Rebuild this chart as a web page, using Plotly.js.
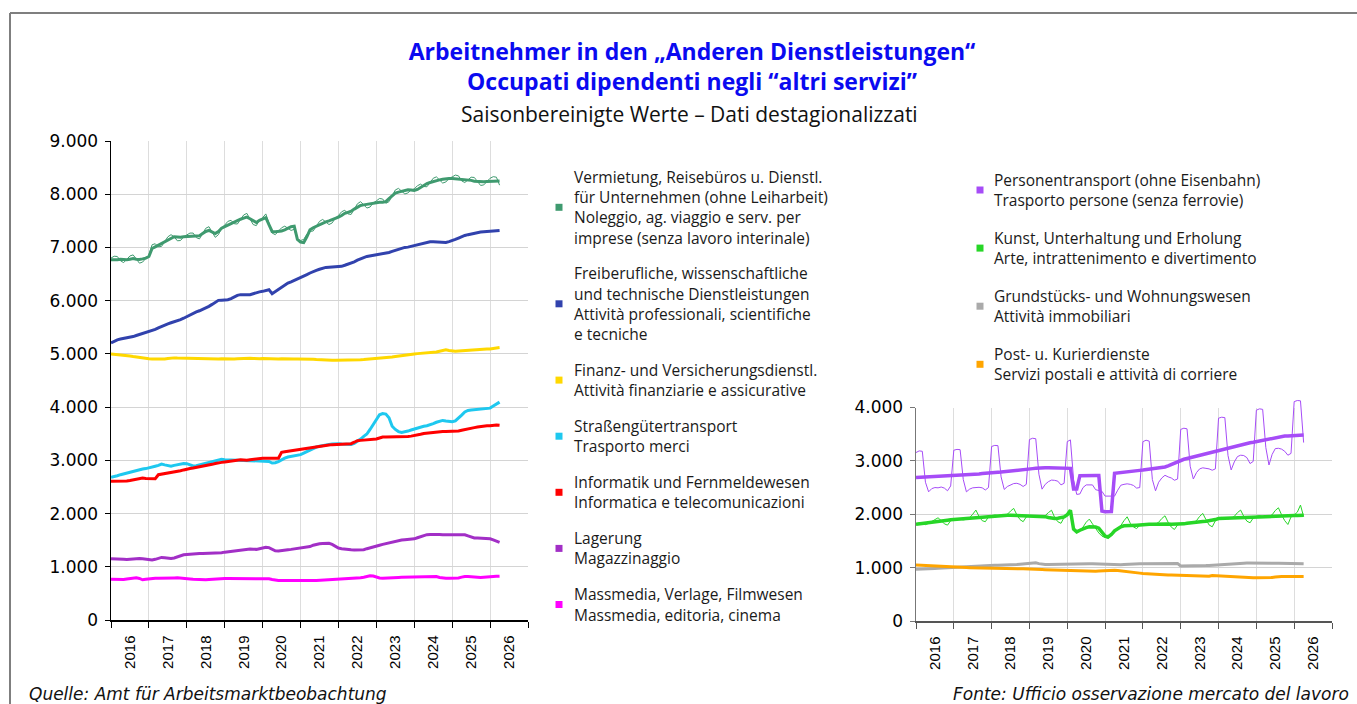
<!DOCTYPE html>
<html><head><meta charset="utf-8">
<script src="https://cdn.plot.ly/plotly-3.0.1.min.js"></script>
<style>html,body{margin:0;padding:0;background:#fff}#chart{width:1357px;height:704px}</style>
</head><body><div id="chart"></div>
<script>
// ---------- categories ----------
const startYear = 2016;
const monthCount = 124; // Jan 2016 .. Apr 2026
const yearLabels = ['2016','2017','2018','2019','2020','2021','2022','2023','2024','2025','2026'];

// ---------- left panel series (monthly) ----------
const vermietungTrend = [
 6770,6765,6770,6780,6775,6770,6780,6790,6780,6775,6785,6800,
 6830,6980,7010,7040,7080,7110,7140,7170,7200,7195,7190,7200,
 7205,7200,7210,7215,7220,7260,7300,7320,7290,7260,7300,7360,
 7390,7420,7450,7475,7500,7530,7550,7570,7540,7500,7470,7510,
 7530,7560,7430,7300,7295,7300,7310,7330,7360,7390,7400,7150,
 7100,7090,7200,7330,7370,7400,7430,7456,7480,7500,7520,7550,
 7570,7600,7640,7660,7680,7720,7760,7790,7800,7810,7820,7835,
 7845,7850,7850,7860,7920,7980,8020,8040,8060,8075,8085,8080,
 8070,8090,8130,8175,8200,8220,8240,8256,8270,8280,8290,8295,
 8295,8290,8285,8280,8280,8270,8260,8245,8238,8235,8235,8238,
 8240,8245,8250,8250];
const vermietungRaw = [
 6800,6835,6830,6750,6715,6770,6840,6860,6780,6705,6725,6800,
 6860,7050,7070,7010,7020,7110,7200,7240,7200,7125,7130,7200,
 7235,7270,7270,7185,7160,7260,7360,7390,7290,7190,7240,7360,
 7420,7490,7510,7445,7440,7530,7610,7640,7540,7430,7410,7510,
 7560,7630,7460,7270,7240,7300,7370,7400,7360,7320,7340,7150,
 7130,7150,7250,7300,7310,7400,7490,7526,7480,7430,7460,7550,
 7600,7670,7700,7630,7620,7720,7820,7860,7800,7740,7760,7835,
 7875,7920,7910,7830,7860,7980,8080,8110,8060,8005,8025,8080,
 8100,8160,8190,8145,8140,8220,8300,8326,8270,8210,8230,8295,
 8325,8360,8345,8250,8220,8270,8320,8315,8238,8165,8175,8238,
 8300,8330,8320,8170];
const freiberufliche = [
 5206,5240,5265,5281,5290,5300,5310,5325,5345,5363,5380,5400,
 5420,5440,5460,5490,5519,5545,5565,5585,5600,5620,5644,5670,
 5700,5730,5769,5790,5810,5835,5860,5894,5930,5970,6006,6010,
 6015,6019,6040,6070,6100,6113,6110,6105,6113,6130,6150,6165,
 6175,6190,6206,6130,6170,6210,6250,6300,6330,6355,6380,6405,
 6425,6455,6490,6520,6550,6570,6590,6610,6625,6630,6635,6640,
 6631,6645,6665,6685,6706,6730,6760,6790,6810,6831,6840,6850,
 6863,6870,6880,6895,6906,6925,6945,6965,6985,7000,7006,7020,
 7031,7045,7060,7080,7095,7106,7105,7100,7095,7094,7094,7110,
 7125,7150,7175,7206,7225,7240,7256,7270,7280,7290,7295,7300,
 7300,7305,7312,7319];
const finanz = [
 5000,4995,4988,4980,4975,4969,4960,4950,4940,4930,4920,4912,
 4908,4905,4902,4900,4900,4905,4915,4925,4925,4922,4920,4922,
 4925,4925,4925,4920,4918,4915,4910,4906,4906,4906,4906,4910,
 4906,4906,4906,4906,4910,4915,4920,4925,4920,4912,4906,4910,
 4915,4912,4906,4906,4900,4906,4910,4906,4900,4905,4906,4906,
 4906,4910,4912,4906,4900,4895,4890,4885,4881,4880,4882,4880,
 4880,4880,4882,4885,4888,4888,4890,4892,4895,4900,4903,4905,
 4906,4910,4915,4920,4930,4940,4950,4960,4970,4980,4990,4995,
 5000,5005,5010,5015,5020,5022,5025,5035,5050,5065,5075,5062,
 5052,5050,5055,5060,5068,5075,5078,5082,5085,5088,5090,5092,
 5094,5100,5110,5119];
const strassengueter = [
 2680,2690,2710,2730,2745,2762,2780,2800,2815,2830,2837,2845,
 2856,2870,2890,2905,2930,2915,2895,2890,2905,2919,2930,2940,
 2937,2915,2895,2900,2915,2935,2950,2965,2985,3000,3013,3020,
 3013,3010,3005,3000,2998,2994,2992,2990,2990,2988,2985,2983,
 2981,2980,2978,2950,2955,2975,3010,3040,3063,3075,3085,3095,
 3107,3135,3165,3195,3232,3250,3265,3280,3294,3300,3305,3310,
 3313,3305,3300,3294,3300,3320,3356,3400,3450,3494,3580,3669,
 3760,3856,3880,3870,3800,3640,3580,3540,3525,3535,3550,3570,
 3590,3610,3625,3640,3650,3663,3690,3715,3735,3750,3740,3730,
 3725,3740,3790,3850,3910,3938,3945,3950,3955,3960,3968,3975,
 3981,4020,4060,4094];
const informatik = [
 2605,2605,2607,2610,2611,2611,2620,2635,2650,2660,2668,2660,
 2655,2650,2655,2730,2740,2750,2760,2768,2774,2790,2805,2820,
 2837,2845,2855,2865,2875,2885,2895,2910,2925,2940,2955,2962,
 2970,2980,2990,3000,3013,3010,3005,3000,3010,3020,3030,3038,
 3040,3038,3035,3035,3038,3040,3150,3160,3170,3180,3190,3200,
 3213,3220,3230,3240,3245,3250,3263,3270,3280,3290,3295,3300,
 3307,3308,3310,3312,3313,3340,3370,3375,3380,3383,3386,3388,
 3400,3420,3438,3440,3440,3438,3438,3438,3440,3445,3450,3455,
 3463,3475,3490,3505,3513,3520,3525,3530,3535,3540,3544,3544,
 3544,3545,3550,3565,3580,3595,3606,3615,3625,3635,3645,3650,
 3650,3660,3665,3660];
const lagerung = [
 1150,1151,1148,1145,1140,1138,1145,1152,1157,1155,1150,1145,
 1135,1126,1140,1160,1176,1170,1160,1157,1165,1185,1210,1225,
 1232,1239,1242,1245,1248,1250,1252,1252,1252,1252,1255,1265,
 1275,1283,1290,1298,1305,1315,1325,1333,1335,1330,1327,1340,
 1355,1365,1360,1330,1300,1296,1300,1310,1320,1327,1335,1345,
 1350,1355,1360,1380,1405,1425,1434,1438,1440,1440,1420,1385,
 1352,1340,1330,1321,1318,1316,1314,1314,1320,1340,1360,1375,
 1390,1405,1420,1435,1447,1460,1475,1490,1503,1508,1512,1516,
 1525,1545,1565,1585,1604,1607,1610,1610,1608,1600,1597,1598,
 1600,1602,1604,1604,1600,1580,1560,1541,1540,1538,1536,1535,
 1525,1505,1480,1459];
const massmedia = [
 765,762,758,755,760,770,780,788,792,780,755,765,
 775,786,785,783,782,781,780,785,790,792,790,785,
 778,772,768,765,755,755,758,762,768,772,776,778,
 780,780,780,780,782,780,780,778,780,782,780,780,
 780,778,775,760,745,742,742,745,746,745,743,740,
 738,736,738,740,742,744,748,750,752,752,754,755,
 758,765,772,780,786,788,790,795,805,818,830,825,
 805,790,786,786,790,795,799,800,802,803,805,805,
 805,805,805,805,805,812,818,818,800,786,786,786,
 786,786,790,805,818,815,810,805,800,799,805,812,
 818,820,822,824];

// ---------- right panel series (monthly) ----------
const personenTrend = [
 2690,2693,2696,2699,2702,2705,2708,2710,2713,2716,2719,2721,
 2723,2723,2723,2724,2728,2733,2740,2747,2755,2762,2770,2775,
 2779,2782,2786,2790,2795,2800,2807,2815,2822,2830,2838,2843,
 2848,2855,2862,2870,2873,2872,2870,2868,2866,2864,2862,2861,
 2860,2860,2472,2472,2723,2727,2730,2730,2728,2727,2725,2060,
 2046,2046,2050,2767,2772,2778,2785,2793,2800,2808,2815,2822,
 2828,2834,2840,2846,2853,2860,2870,2885,2905,2930,2955,2985,
 3017,3030,3045,3060,3075,3090,3105,3120,3135,3150,3165,3185,
 3205,3220,3235,3250,3262,3275,3290,3305,3315,3325,3340,3350,
 3361,3375,3390,3405,3420,3430,3440,3450,3458,3464,3468,3472,
 3474,3478,3482,3486];
const personenRaw = [
 3156,3187,3180,2600,2420,2480,2500,2495,2510,2490,2440,2530,
 3200,3215,3210,2650,2420,2470,2495,2500,2505,2495,2455,2500,
 3270,3290,3285,2700,2465,2520,2550,2575,2580,2560,2520,2560,
 3400,3424,3415,2750,2470,2560,2610,2640,2635,2620,2550,2580,
 3361,3393,2650,2372,2380,2500,2550,2556,2550,2460,2450,2430,
 2340,2337,2340,2340,2450,2544,2560,2570,2560,2540,2490,2500,
 3360,3387,3370,2650,2440,2600,2680,2730,2700,2680,2637,2660,
 3590,3612,3600,2900,2660,2780,2850,2870,2860,2850,2825,2850,
 3800,3818,3810,3100,2830,2980,3080,3106,3100,3060,2950,2990,
 3950,3975,3965,3250,2923,3120,3230,3236,3220,3180,3106,3140,
 4110,4131,4125,3343];
const kunstTrend = [
 1812,1818,1825,1832,1840,1848,1855,1865,1872,1880,1888,1895,
 1900,1903,1906,1910,1914,1918,1922,1930,1940,1950,1955,1960,
 1962,1970,1978,1981,1983,1982,1980,1978,1975,1972,1970,1966,
 1962,1962,1962,1962,1962,1955,1940,1925,1919,1925,1930,1950,
 1990,2075,1720,1670,1700,1733,1750,1765,1765,1760,1740,1660,
 1590,1577,1620,1690,1733,1765,1783,1790,1793,1795,1796,1800,
 1808,1810,1812,1815,1818,1822,1825,1822,1818,1815,1814,1812,
 1812,1820,1830,1840,1845,1850,1858,1865,1870,1875,1885,1900,
 1919,1922,1925,1928,1930,1931,1933,1936,1940,1943,1946,1948,
 1950,1952,1954,1956,1958,1960,1962,1964,1966,1968,1970,1972,
 1975,1977,1979,1981];
const kunstRaw = [
 1820,1840,1825,1805,1830,1870,1900,1934,1880,1820,1796,1880,
 1905,1915,1905,1895,1905,1935,2000,2078,1960,1880,1860,1950,
 1970,1985,1975,1965,1975,2000,2060,2110,1990,1900,1860,1950,
 1970,1975,1960,1950,1955,1975,2030,2075,1940,1860,1830,1940,
 1995,2075,1720,1660,1700,1760,1850,1909,1820,1730,1650,1590,
 1560,1545,1600,1690,1740,1790,1880,1952,1830,1760,1733,1790,
 1815,1825,1810,1800,1815,1850,1920,1971,1850,1760,1715,1800,
 1820,1835,1830,1825,1840,1880,1960,2015,1900,1800,1765,1880,
 1925,1940,1925,1915,1925,1960,2030,2078,1960,1870,1840,1930,
 1960,1975,1955,1945,1955,1990,2070,2121,1990,1880,1808,1950,
 1985,2040,2172,1955];
const grundstuecke = [
 970,970,972,975,978,980,983,986,990,994,997,1000,
 1002,1006,1010,1015,1020,1025,1028,1030,1032,1035,1038,1040,
 1045,1045,1046,1046,1047,1048,1050,1055,1060,1065,1070,1075,
 1080,1088,1090,1075,1060,1058,1060,1062,1063,1064,1065,1065,
 1066,1068,1070,1072,1074,1075,1075,1074,1072,1070,1068,1066,
 1060,1055,1050,1048,1050,1055,1060,1065,1068,1070,1072,1073,
 1073,1074,1074,1075,1075,1075,1076,1076,1076,1076,1076,1075,
 1032,1031,1032,1033,1034,1035,1036,1037,1038,1040,1045,1050,
 1055,1060,1065,1070,1075,1078,1080,1082,1084,1085,1086,1087,
 1088,1089,1090,1089,1088,1086,1084,1082,1080,1078,1076,1075,
 1074,1073,1072,1071];
const post = [
 1050,1046,1042,1038,1034,1030,1026,1022,1019,1016,1013,1010,
 1008,1006,1004,1002,1000,998,996,994,992,990,988,986,
 983,983,982,982,981,980,979,978,978,977,977,977,
 977,975,972,968,965,962,960,958,955,952,950,948,
 945,940,937,934,930,928,926,925,928,932,936,940,
 944,948,952,950,945,940,932,925,918,910,903,897,
 890,885,880,876,872,870,868,866,864,862,860,858,
 858,858,857,856,855,853,850,846,842,838,852,848,
 842,838,834,830,826,822,818,815,812,810,810,810,
 809,808,808,808,810,815,825,833,833,832,832,832,
 832,833,833,833];

// ---------- legend labels ----------
const legendLeftLabels = [
 ['Vermietung, Reisebüros u. Dienstl.','für Unternehmen (ohne Leiharbeit)','Noleggio, ag. viaggio e serv. per','imprese (senza lavoro interinale)'],
 ['Freiberufliche, wissenschaftliche','und technische Dienstleistungen','Attività professionali, scientifiche','e tecniche'],
 ['Finanz- und Versicherungsdienstl.','Attività finanziarie e assicurative'],
 ['Straßengütertransport','Trasporto merci'],
 ['Informatik und Fernmeldewesen','Informatica e telecomunicazioni'],
 ['Lagerung','Magazzinaggio'],
 ['Massmedia, Verlage, Filmwesen','Massmedia, editoria, cinema']
];
const legendRightLabels = [
 ['Personentransport (ohne Eisenbahn)','Trasporto persone (senza ferrovie)'],
 ['Kunst, Unterhaltung und Erholung','Arte, intrattenimento e divertimento'],
 ['Grundstücks- und Wohnungswesen','Attività immobiliari'],
 ['Post- u. Kurierdienste','Servizi postali e attività di corriere']
];
const titleLines = ['Arbeitnehmer in den „Anderen Dienstleistungen“', 'Occupati dipendenti negli “altri servizi”'];
const subtitle = 'Saisonbereinigte Werte – Dati destagionalizzati';

// ---------- styles ----------
const C = {
  verm:'#3f9a6f', frei:'#3142ad', fin:'#ffd800', str:'#1ec8ef', inf:'#ff0000', lag:'#a22fc6', mm:'#ff00ff',
  pers:'#a64cf7', kunst:'#27d627', grund:'#aaaaaa', post:'#ffa500'
};
const W = 1357, H = 704;
const PX = p => p / W, PY = p => 1 - p / H;

const xs = [];
for (let i = 0; i < monthCount; i++) xs.push(startYear + i / 12);
const yearCenters = yearLabels.map((_, i) => startYear + i + 0.5);
const yearBounds = [];
for (let i = 0; i <= yearLabels.length; i++) yearBounds.push(startYear + i);

function tr(y, color, width, xa, ya) {
  return {x: xs, y: y, type: 'scatter', mode: 'lines', xaxis: xa, yaxis: ya,
    line: {color: color, width: width, shape: 'linear'}, hoverinfo: 'skip', showlegend: false};
}
const traces = [
  tr(vermietungRaw, C.verm, 1, 'x', 'y'),
  tr(vermietungTrend, C.verm, 3, 'x', 'y'),
  tr(freiberufliche, C.frei, 3, 'x', 'y'),
  tr(finanz, C.fin, 3, 'x', 'y'),
  tr(strassengueter, C.str, 3, 'x', 'y'),
  tr(informatik, C.inf, 3, 'x', 'y'),
  tr(lagerung, C.lag, 3, 'x', 'y'),
  tr(massmedia, C.mm, 3, 'x', 'y'),
  tr(grundstuecke, C.grund, 3, 'x2', 'y2'),
  tr(post, C.post, 3, 'x2', 'y2'),
  tr(personenRaw, C.pers, 1, 'x3', 'y3'),
  tr(kunstRaw, C.kunst, 1, 'x3', 'y3'),
  tr(personenTrend, C.pers, 3.5, 'x3', 'y3'),
  tr(kunstTrend, C.kunst, 3.5, 'x3', 'y3')
];

const tickFont = {family: 'DejaVu Sans, sans-serif', size: 17, color: '#000'};
const yearFont = {family: 'Liberation Sans, Arial, sans-serif', size: 15, color: '#000'};
function xAxis(dom, lineColor, anchor) {
  return {domain: dom, anchor: anchor, range: [startYear, startYear + yearLabels.length], fixedrange: true,
    tickmode: 'array', tickvals: yearCenters, ticktext: yearLabels, tickangle: -90, ticks: '',
    tickfont: yearFont, ticklabelstandoff: 8, showgrid: false, zeroline: false,
    showline: true, linecolor: lineColor, linewidth: 1.5,
    minor: {tickmode: 'array', tickvals: yearBounds, ticks: 'outside', ticklen: 6, tickwidth: 1, tickcolor: lineColor,
      showgrid: true, gridcolor: '#dddddd', gridwidth: 1}};
}
function yAxis(dom, max, lineColor, anchor) {
  return {domain: dom, anchor: anchor, range: [0, max], fixedrange: true, tickmode: 'linear', tick0: 0, dtick: 1000,
    tickformat: ',d', tickfont: tickFont, ticks: 'outside', ticklen: 5, tickcolor: lineColor, ticklabelstandoff: 3,
    showgrid: true, gridcolor: '#d4d4d4', gridwidth: 1, zeroline: false,
    showline: true, linecolor: lineColor, linewidth: 1.5};
}

const legendFont = {family: 'Open Sans, sans-serif', size: 15.5, color: '#1a1a1a'};
const annotations = [];
const shapes = [];
function addLegend(labels, colors, textX, markX, firstY, lineStep, entryGap) {
  let y = firstY;
  labels.forEach((lines, k) => {
    const y0 = y;
    lines.forEach((t, j) => {
      annotations.push({text: t, xref: 'paper', yref: 'paper', x: PX(textX), y: PY(y), xanchor: 'left', yanchor: 'middle',
        showarrow: false, font: legendFont});
      if (j < lines.length - 1) y += lineStep;
    });
    const ym = (y0 + y) / 2;
    shapes.push({type: 'rect', xref: 'paper', yref: 'paper', x0: PX(markX - 3.5), x1: PX(markX + 3.5),
      y0: PY(ym - 3.5), y1: PY(ym + 3.5), fillcolor: colors[k], line: {width: 0}});
    y += lineStep + entryGap;
  });
}
addLegend(legendLeftLabels, [C.verm, C.frei, C.fin, C.str, C.inf, C.lag, C.mm], 572, 559, 177, 20.2, 15.7);
addLegend(legendRightLabels, [C.pers, C.kunst, C.grund, C.post], 992, 980, 180, 20, 18.1);

const titleBlue = '#0a0af0';
annotations.push({text: subtitle, xref: 'paper', yref: 'paper', x: PX(689), y: PY(114),
  xanchor: 'center', yanchor: 'middle', showarrow: false, font: {family: 'Open Sans, sans-serif', size: 21, color: '#111'}});
annotations.push({text: '<i>Quelle: Amt für Arbeitsmarktbeobachtung</i>', xref: 'paper', yref: 'paper', x: PX(27), y: PY(694),
  xanchor: 'left', yanchor: 'middle', showarrow: false, font: {family: 'DejaVu Sans, sans-serif', size: 17, color: '#111'}});
annotations.push({text: '<i>Fonte: Ufficio osservazione mercato del lavoro</i>', xref: 'paper', yref: 'paper', x: PX(1351), y: PY(694),
  xanchor: 'right', yanchor: 'middle', showarrow: false, font: {family: 'DejaVu Sans, sans-serif', size: 17, color: '#111'}});

shapes.push({type: 'line', xref: 'paper', yref: 'paper', x0: PX(10), x1: PX(10), y0: 0, y1: PY(13), line: {color: '#7f7f7f', width: 2}});
shapes.push({type: 'line', xref: 'paper', yref: 'paper', x0: PX(10), x1: 1, y0: PY(13), y1: PY(13), line: {color: '#7f7f7f', width: 2}});

// right panel: 0 at y=621px, 4000 at y=407.5px; overlay data area extends above 4000 so peaks are not cut
const rightZero = 621, rightTop = 407.5, rightMax = 4000, dataMax = 4300;
const dataTopPx = rightZero - (rightZero - rightTop) * dataMax / rightMax;

const layout = {
  width: W, height: H, margin: {l: 0, r: 0, t: 0, b: 0}, paper_bgcolor: '#fff', plot_bgcolor: 'rgba(0,0,0,0)',
  separators: ',.', showlegend: false,
  title: {text: '<b>' + titleLines.join('<br>') + '</b>', x: PX(692), xanchor: 'center', xref: 'paper',
    y: PY(60), yanchor: 'middle', yref: 'container', font: {family: 'Open Sans, sans-serif', size: 23, color: titleBlue}},
  xaxis: xAxis([PX(111), PX(528)], '#000', 'y'),
  yaxis: yAxis([PY(620), PY(141)], 9000, '#000', 'x'),
  xaxis2: xAxis([PX(916), PX(1332)], '#555', 'y2'),
  yaxis2: yAxis([PY(rightZero), PY(rightTop)], rightMax, '#777', 'x2'),
  xaxis3: {domain: [PX(916), PX(1332)], anchor: 'y3', range: [startYear, startYear + yearLabels.length], visible: false, fixedrange: true},
  yaxis3: {domain: [PY(rightZero), PY(dataTopPx)], anchor: 'x3', range: [0, dataMax], visible: false, fixedrange: true},
  annotations: annotations, shapes: shapes
};
Plotly.newPlot('chart', traces, layout, {staticPlot: true, displayModeBar: false});
</script>
</body></html>
